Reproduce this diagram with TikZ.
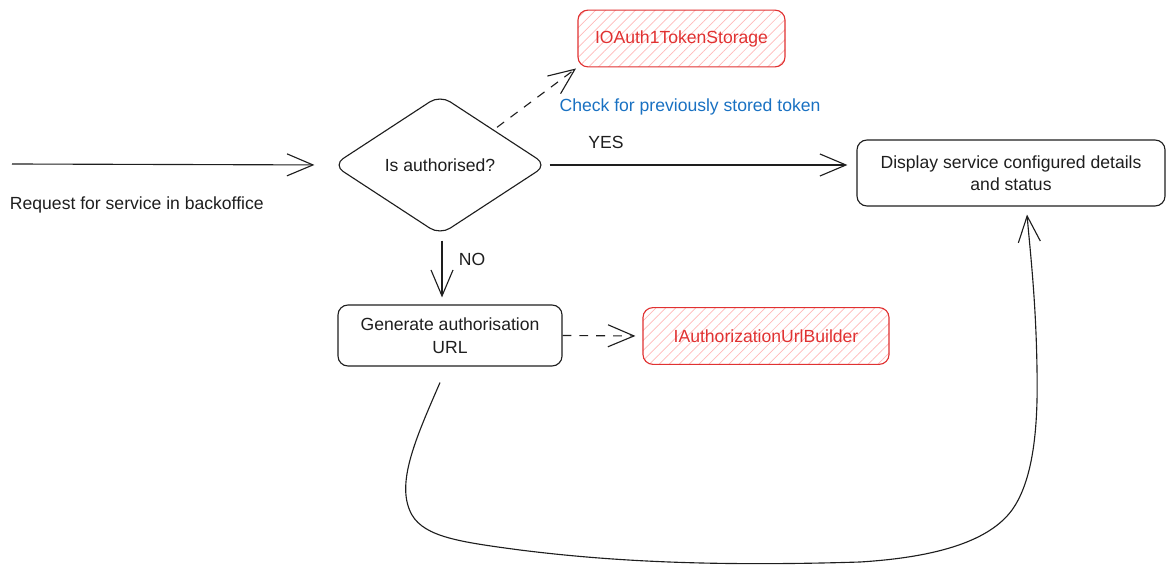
\documentclass[tikz,border=0pt]{standalone}
\usepackage{fontspec}
\setmainfont{Liberation Sans}
\usetikzlibrary{shapes.geometric,arrows.meta,patterns.meta}

\definecolor{inkblack}{HTML}{1E1E1E}
\definecolor{inkred}{HTML}{E03131}
\definecolor{inkblue}{HTML}{1971C2}
\definecolor{hatchred}{HTML}{FFB8B8}

\tikzset{
  decision/.style={diamond, draw=inkblack, line width=0.8pt, rounded corners=0.3cm,
    minimum width=5.35cm, minimum height=3.5cm, inner sep=0pt, text=inkblack,
    font=\fontsize{12.5}{15}\selectfont},
  flowbox/.style={draw=inkblack, line width=0.8pt, rounded corners=0.25cm, align=center,
    text=inkblack, font=\fontsize{12.5}{16}\selectfont},
  codebox/.style={draw=inkred, line width=0.8pt, rounded corners=0.25cm, text=inkred,
    pattern={Lines[angle=45, distance=5pt, line width=0.5pt]}, pattern color=hatchred,
    font=\fontsize{12.5}{15}\selectfont},
  txtlabel/.style={text=inkblack, font=\fontsize{12.5}{15}\selectfont, inner sep=1pt},
  dashlink/.style={dash pattern=on 0.22cm off 0.2cm}
}

\begin{document}
\begin{tikzpicture}[x=0.025cm, y=-0.025cm, line width=0.8pt, draw=inkblack,
  >={Straight Barb[length=0.65cm, width=0.55cm, line width=0.8pt]}]
\useasboundingbox (0,0) rectangle (1174,576);

% Decisione
\node[decision] (dia) at (440,165) {Is authorised?};

% Blocchi del flusso
\node[flowbox, minimum width=7.7cm, minimum height=1.65cm] (disp) at (1011,173)
  {Display service configured details\\and status};
\node[flowbox, minimum width=5.6cm, minimum height=1.525cm] (gen) at (450,335.5)
  {Generate authorisation\\URL};

% Interfacce
\foreach \x/\y/\w/\name/\txt in {681.5/38.5/5.175cm/tok/IOAuth1TokenStorage,
                                 766/336/6.15cm/bld/IAuthorizationUrlBuilder} {
  \node[codebox, minimum width=\w, minimum height=1.42cm] (\name) at (\x,\y) {\txt};
}

% Etichette
\coordinate (in) at (12,164);
\node[txtlabel, anchor=west] (req) at (8,205) {Request for service in backoffice};
\node[txtlabel] (yes) at (606,142) {YES};
\node[txtlabel] (no) at (472,259) {NO};
\node[txtlabel, text=inkblue] (chk) at (690,107) {Check for previously stored token};

% Frecce
\draw[->, shorten >=0.45cm] (in) -- (dia.west);
\draw[->, shorten <=0.05cm, shorten >=0.225cm] (dia.east) -- (dia.east -| disp.west);
\draw[->, shorten <=0.125cm, shorten >=0.175cm] ([xshift=0.05cm]dia.south) -- ([xshift=0.05cm]dia.south |- gen.north);
\draw[->, dashlink, shorten <=0.1cm, shorten >=0.05cm] (dia.north east) -- (tok.south west);
\draw[->, dashlink, shorten >=0.175cm] (gen.east) -- (bld.west);

% Ritorno
\draw[->] ([xshift=-0.25cm, yshift=-0.4cm]gen.south)
  .. controls (415,440) and (395,485) .. (412,515)
  .. controls (425,537) and (460,542) .. (520,550)
  .. controls (600,560) and (700,567) .. (860,562)
  .. controls (940,557) and (990,540) .. (1012,510)
  .. controls (1035,478) and (1038,420) .. (1037,370)
  .. controls (1036,300) and (1030,250) .. ([xshift=0.4cm, yshift=-0.2cm]disp.south);

\end{tikzpicture}
\end{document}
